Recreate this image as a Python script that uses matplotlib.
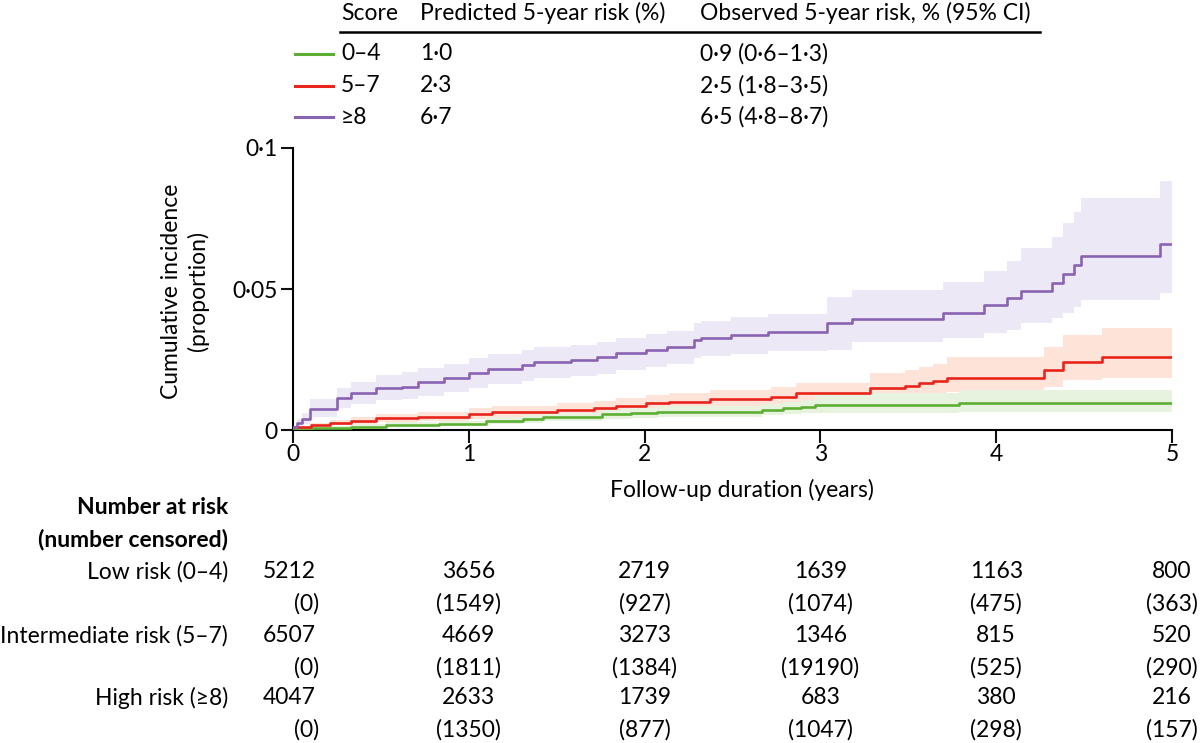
import numpy as np
import matplotlib
matplotlib.use("Agg")
from matplotlib import pyplot as plt
from matplotlib.transforms import blended_transform_factory

plt.rcParams["font.family"] = ["Lato", "DejaVu Sans"]

# step knots (years, cumulative incidence)
t_low = [0, 0.11, 0.33, 0.53, 0.83, 1.10, 1.31, 1.42, 1.76, 1.92, 2.07, 2.67, 2.79, 2.89, 2.97, 3.79]
est_low = [0.0003, 0.0008, 0.0012, 0.0018, 0.0022, 0.0033, 0.0038, 0.0047, 0.0056, 0.0059, 0.0065,
           0.0071, 0.0077, 0.0083, 0.0089, 0.0095]
hi_low = [0.0006, 0.0014, 0.0020, 0.0028, 0.0033, 0.0046, 0.0052, 0.0062, 0.0073, 0.0077, 0.0084,
          0.0092, 0.0100, 0.0108, 0.0130, 0.0142]
lo_low = [0.0001, 0.0004, 0.0006, 0.0010, 0.0013, 0.0021, 0.0025, 0.0032, 0.0039, 0.0042, 0.0047,
          0.0052, 0.0056, 0.0060, 0.0061, 0.0065]

t_mid = [0, 0.10, 0.21, 0.33, 0.47, 0.71, 1.0, 1.13, 1.50, 1.71, 1.84, 2.01, 2.14, 2.37, 2.72, 2.86,
         3.28, 3.48, 3.56, 3.64, 3.72, 4.27, 4.38, 4.60]
est_mid = [0.0010, 0.0018, 0.0025, 0.0033, 0.0041, 0.0047, 0.0057, 0.0065, 0.0071, 0.0077, 0.0085,
           0.0095, 0.0100, 0.0109, 0.0118, 0.0130, 0.0148, 0.0156, 0.0165, 0.0175, 0.0186, 0.0213,
           0.0242, 0.0258]
hi_mid = [0.0015, 0.0025, 0.0035, 0.0045, 0.0056, 0.0065, 0.0077, 0.0086, 0.0094, 0.0102, 0.0112,
          0.0124, 0.0130, 0.0142, 0.0154, 0.0168, 0.0202, 0.0212, 0.0222, 0.0235, 0.0260, 0.0296,
          0.0337, 0.0361]
lo_mid = [0.0005, 0.0011, 0.0016, 0.0022, 0.0028, 0.0032, 0.0040, 0.0046, 0.0050, 0.0055, 0.0061,
          0.0068, 0.0072, 0.0079, 0.0086, 0.0095, 0.0112, 0.0118, 0.0124, 0.0130, 0.0136, 0.0154,
          0.0177, 0.0183]

t_high = [0, 0.02, 0.05, 0.097, 0.25, 0.33, 0.47, 0.62, 0.71, 0.86, 1.0, 1.11, 1.30, 1.37, 1.58, 1.73,
          1.84, 2.01, 2.13, 2.28, 2.32, 2.49, 2.70, 3.04, 3.18, 3.70, 3.93, 4.06, 4.14, 4.32, 4.38,
          4.44, 4.48, 4.93]
est_high = [0.0010, 0.0025, 0.0040, 0.0075, 0.0112, 0.0130, 0.0148, 0.0154, 0.0169, 0.0183, 0.0201,
            0.0215, 0.0230, 0.0240, 0.0248, 0.0258, 0.0272, 0.0284, 0.0296, 0.0319, 0.0327, 0.0337,
            0.0349, 0.0378, 0.0394, 0.0416, 0.0443, 0.0467, 0.0493, 0.0522, 0.0552, 0.0585, 0.0617,
            0.0658]
hi_high = [0.0015, 0.0040, 0.0060, 0.0110, 0.0150, 0.0170, 0.0195, 0.0205, 0.0220, 0.0235, 0.0255,
           0.0268, 0.0285, 0.0295, 0.0303, 0.0313, 0.0328, 0.0340, 0.0352, 0.0378, 0.0388, 0.0400,
           0.0412, 0.0473, 0.0496, 0.0526, 0.0565, 0.0600, 0.0644, 0.0686, 0.0733, 0.0774, 0.0821,
           0.0884]
lo_high = [0.0005, 0.0012, 0.0020, 0.0045, 0.0078, 0.0092, 0.0105, 0.0110, 0.0122, 0.0135, 0.0150,
           0.0162, 0.0175, 0.0183, 0.0190, 0.0200, 0.0213, 0.0225, 0.0235, 0.0255, 0.0262, 0.0270,
           0.0280, 0.0284, 0.0313, 0.0325, 0.0343, 0.0355, 0.0378, 0.0396, 0.0414, 0.0437, 0.0461,
           0.0485]

t_end = 5.0

scores = ["0–4", "5–7", "≥8"]
predicted = ["1·0", "2·3", "6·7"]
observed = ["0·9 (0·6–1·3)", "2·5 (1·8–3·5)", "6·5 (4·8–8·7)"]

risk_years = [0, 1, 2, 3, 4, 5]
group_names = ["Low risk (0–4)", "Intermediate risk (5–7)", "High risk (≥8)"]
at_risk_low = [5212, 3656, 2719, 1639, 1163, 800]
cens_low = [0, 1549, 927, 1074, 475, 363]
at_risk_mid = [6507, 4669, 3273, 1346, 815, 520]
cens_mid = [0, 1811, 1384, 19190, 525, 290]
at_risk_high = [4047, 2633, 1739, 683, 380, 216]
cens_high = [0, 1350, 877, 1047, 298, 157]

line_cols = ["#5daf34", "#e8241c", "#8a62b2"]
band_cols = ["#e7f2df", "#fde3d8", "#ece8f6"]

W, H = 1200, 743
fs = 16.5


def fx(px):
    return px / W


def fy(py):
    return 1 - py / H


fig = plt.figure(figsize=(12, 7.43), dpi=100)
ax = fig.add_axes([fx(293), fy(430), fx(1172) - fx(293), fy(148) - fy(430)])

series = [
    (t_low, est_low, lo_low, hi_low),
    (t_mid, est_mid, lo_mid, hi_mid),
    (t_high, est_high, lo_high, hi_high),
]

for i in [2, 1, 0]:
    t, e, lo, hi = series[i]
    tt = np.append(t, t_end)
    ax.fill_between(tt, np.append(lo, lo[-1]), np.append(hi, hi[-1]), step="post",
                    color=band_cols[i], lw=0, zorder=1 + (2 - i) * 0.1)
for i in [0, 1, 2]:
    t, e, lo, hi = series[i]
    tt = np.append(t, t_end)
    ax.step(tt, np.append(e, e[-1]), where="post", color=line_cols[i], lw=1.9, zorder=3)

ax.set_xlim(0, 5)
ax.set_ylim(0, 0.1)
ax.spines["top"].set_visible(False)
ax.spines["right"].set_visible(False)
for s in ["left", "bottom"]:
    ax.spines[s].set_linewidth(1.5)
ax.set_xticks(risk_years)
ax.set_yticks([0, 0.05, 0.1])
ax.set_yticklabels(["0", "0·05", "0·1"])
ax.tick_params(axis="both", length=9, width=1.5, labelsize=fs, color="#111111")
ax.tick_params(axis="x", pad=1)
ax.tick_params(axis="y", pad=2)

fig.text(fx(742), fy(490), "Follow-up duration (years)", fontsize=fs, ha="center", va="center")
fig.text(fx(185), fy(291), "Cumulative incidence\n(proportion)", fontsize=fs, ha="center",
         va="center", rotation=90, multialignment="center", linespacing=1.25)

# legend table at top
fig.text(fx(341), fy(13), "Score", fontsize=fs, ha="left", va="center")
fig.text(fx(420), fy(13), "Predicted 5-year risk (%)", fontsize=fs, ha="left", va="center")
fig.text(fx(700), fy(13), "Observed 5-year risk, % (95% CI)", fontsize=fs, ha="left", va="center")
fig.add_artist(plt.Line2D([fx(340), fx(1040)], [fy(32), fy(32)], color="black", lw=1.8))
row_y = [54, 86, 117]
for i in range(3):
    y = fy(row_y[i])
    fig.add_artist(plt.Line2D([fx(295), fx(333)], [y, y], color=line_cols[i], lw=2.2))
    fig.text(fx(341), y, scores[i], fontsize=fs, ha="left", va="center")
    fig.text(fx(420), y, predicted[i], fontsize=fs, ha="left", va="center")
    fig.text(fx(700), y, observed[i], fontsize=fs, ha="left", va="center")

# number at risk table
tr = blended_transform_factory(ax.transData, fig.transFigure)
fig.text(fx(228), fy(508), "Number at risk", fontsize=fs, ha="right", va="center", fontweight="bold")
fig.text(fx(228), fy(540), "(number censored)", fontsize=fs, ha="right", va="center",
         fontweight="bold")
rows = [(at_risk_low, cens_low), (at_risk_mid, cens_mid), (at_risk_high, cens_high)]
table_y = [572, 636, 698]
for g in range(3):
    n, c = rows[g]
    y1 = fy(table_y[g])
    y2 = fy(table_y[g] + 32)
    fig.text(fx(228), y1, group_names[g], fontsize=fs, ha="right", va="center")
    for k, yr in enumerate(risk_years):
        if k == 0:
            ax.text(0.13, y1, str(n[k]), transform=tr, fontsize=fs, ha="right", va="center")
            ax.text(0.15, y2, "(%d)" % c[k], transform=tr, fontsize=fs, ha="right", va="center")
        else:
            ax.text(yr, y1, str(n[k]), transform=tr, fontsize=fs, ha="center", va="center")
            ax.text(yr, y2, "(%d)" % c[k], transform=tr, fontsize=fs, ha="center", va="center")

fig.savefig("out.png", dpi=100)
